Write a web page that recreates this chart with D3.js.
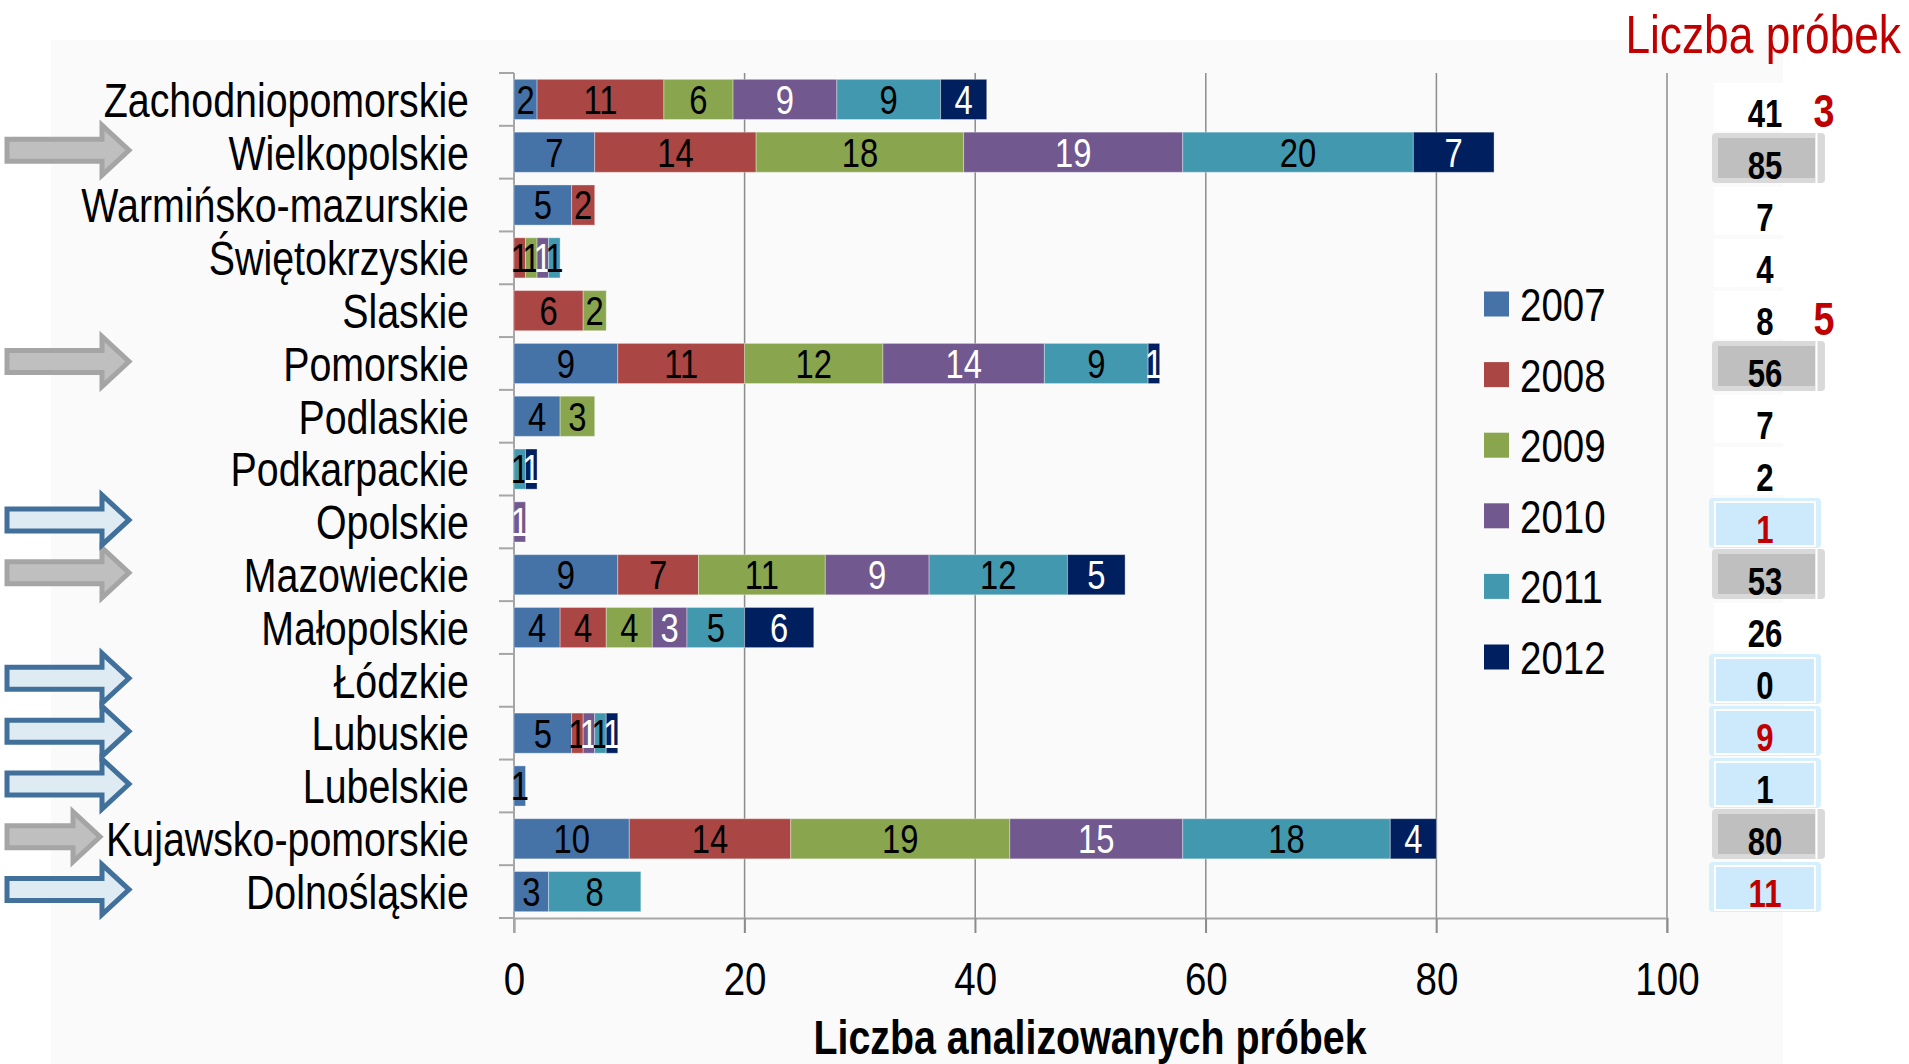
<!DOCTYPE html>
<html lang="pl">
<head>
<meta charset="utf-8">
<title>Liczba analizowanych próbek</title>
<script src="https://cdn.jsdelivr.net/npm/d3@7/dist/d3.min.js"></script>
<style>
  body { margin: 0; background: #fff; }
  svg text { font-family: "Liberation Sans", Arial, sans-serif; }
</style>
</head>
<body>
<svg id="chart" width="1909" height="1064"></svg>
<script>
// categories, top to bottom as in the picture
var regions = ["Zachodniopomorskie", "Wielkopolskie", "Warmińsko-mazurskie", "Świętokrzyskie",
  "Slaskie", "Pomorskie", "Podlaskie", "Podkarpackie", "Opolskie", "Mazowieckie",
  "Małopolskie", "Łódzkie", "Lubuskie", "Lubelskie", "Kujawsko-pomorskie", "Dolnośląskie"];
var years = ["2007", "2008", "2009", "2010", "2011", "2012"];

// samples per year
var v2007 = [2, 7, 5, 0, 0, 9, 4, 0, 0, 9, 4, 0, 5, 1, 10, 3];
var v2008 = [11, 14, 2, 1, 6, 11, 0, 0, 0, 7, 4, 0, 1, 0, 14, 0];
var v2009 = [6, 18, 0, 1, 2, 12, 3, 0, 0, 11, 4, 0, 0, 0, 19, 0];
var v2010 = [9, 19, 0, 1, 0, 14, 0, 0, 1, 9, 3, 0, 1, 0, 15, 0];
var v2011 = [9, 20, 0, 1, 0, 9, 0, 1, 0, 12, 5, 0, 1, 0, 18, 8];
var v2012 = [4, 7, 0, 0, 0, 1, 0, 1, 0, 5, 6, 0, 1, 0, 4, 0];

var xTicks = [0, 20, 40, 60, 80, 100];

// highlighted regions (arrows + boxes in the totals column)
var markedGray = ["Wielkopolskie", "Pomorskie", "Mazowieckie", "Kujawsko-pomorskie"];
var markedBlue = ["Opolskie", "Łódzkie", "Lubuskie", "Lubelskie", "Dolnośląskie"];
var redTotals = ["Opolskie", "Lubuskie", "Dolnośląskie"];
var sideNotes = [{ region: "Zachodniopomorskie", text: "3" }, { region: "Slaskie", text: "5" }];

var colors = ["#4572a7", "#aa4643", "#89a54e", "#71588f", "#4198af", "#001f5f"];
var labelColors = ["#000", "#000", "#000", "#fff", "#000", "#fff"];

var series = [v2007, v2008, v2009, v2010, v2011, v2012];
var rows = regions.map(function(r, i) {
  var o = { region: r };
  years.forEach(function(y, k) { o[y] = series[k][i]; });
  o.total = d3.sum(series, function(s) { return s[i]; });
  return o;
});

// the original uses a narrow font: squeeze Liberation Sans horizontally
var SQ = 0.82;
function place(sel, fx, fy) {
  return sel.attr("transform", function(d, i) {
    return "translate(" + fx(d, i) + "," + fy(d, i) + ") scale(" + SQ + ",1)";
  });
}

var svg = d3.select("#chart");

// panel background
svg.append("rect").attr("x", 51).attr("y", 40).attr("width", 1732).attr("height", 1024).attr("fill", "#fafafa");

var plotTop = 73, plotBottom = 918, plotLeft = 514, plotRight = 1667;
var x = d3.scaleLinear().domain([0, 100]).range([plotLeft, plotRight]);
var y = d3.scaleBand().domain(regions).range([plotTop, plotBottom]);
var bh = y.bandwidth() * 0.76;

// vertical gridlines
svg.append("g").selectAll("line").data(xTicks.slice(1)).enter().append("line")
  .attr("x1", x).attr("x2", x).attr("y1", plotTop).attr("y2", plotBottom + 15)
  .attr("stroke", "#8c8c8c").attr("stroke-width", 1.5);

// bottom axis
var xAxis = svg.append("g").attr("transform", "translate(0," + plotBottom + ")")
  .call(d3.axisBottom(x).tickValues(xTicks).tickSize(15).tickPadding(29).tickFormat(d3.format("d")));
xAxis.select(".domain").attr("stroke", "#a6a6a6").attr("stroke-width", 2);
xAxis.selectAll(".tick line").attr("stroke", "#8c8c8c").attr("stroke-width", 1.5);
xAxis.selectAll(".tick text").attr("font-size", 47).attr("fill", "#000")
  .attr("transform", "scale(" + SQ + ",1)");

// left axis: line and boundary ticks
svg.append("line").attr("x1", plotLeft).attr("x2", plotLeft).attr("y1", plotTop).attr("y2", plotBottom + 15)
  .attr("stroke", "#a6a6a6").attr("stroke-width", 2);
svg.append("g").selectAll("line").data(regions.concat(["end"])).enter().append("line")
  .attr("x1", plotLeft - 15).attr("x2", plotLeft)
  .attr("y1", function(d) { return d === "end" ? plotBottom : y(d); })
  .attr("y2", function(d) { return d === "end" ? plotBottom : y(d); })
  .attr("stroke", "#a6a6a6").attr("stroke-width", 2);

// category labels
var catLabels = svg.append("g").selectAll("text").data(regions).enter().append("text")
  .attr("dy", "0.36em").attr("text-anchor", "end").attr("font-size", 48).attr("fill", "#000")
  .text(function(d) { return d; });
place(catLabels, function() { return 469; }, function(d) { return y(d) + y.bandwidth() / 2; });

// stacked bars
var stacked = d3.stack().keys(years)(rows);
var layer = svg.append("g").selectAll("g").data(stacked).enter().append("g");
layer.selectAll("rect").data(function(d) { return d; }).enter().append("rect")
  .filter(function(d) { return d[1] > d[0]; })
  .attr("x", function(d) { return x(d[0]); })
  .attr("y", function(d) { return y(d.data.region) + (y.bandwidth() - bh) / 2; })
  .attr("width", function(d) { return x(d[1]) - x(d[0]); })
  .attr("height", bh)
  .attr("fill", function() { return colors[d3.select(this.parentNode).datum().index]; })
  .attr("stroke", "rgba(255,255,255,0.35)").attr("stroke-width", 1);

var barText = layer.selectAll("text").data(function(d) { return d; }).enter().append("text")
  .filter(function(d) { return d[1] > d[0]; })
  .attr("dy", "0.36em").attr("text-anchor", "middle").attr("font-size", 40)
  .attr("fill", function() { return labelColors[d3.select(this.parentNode).datum().index]; })
  .text(function(d) { return d[1] - d[0]; });
place(barText, function(d) { return (x(d[0]) + x(d[1])) / 2; },
  function(d) { return y(d.data.region) + y.bandwidth() / 2; });

// axis title
svg.append("text").attr("text-anchor", "middle")
  .attr("font-size", 48).attr("font-weight", "bold").attr("fill", "#000")
  .attr("transform", "translate(1090,1054) scale(" + SQ + ",1)")
  .text("Liczba analizowanych próbek");

// legend
var legend = svg.append("g").selectAll("g").data(years).enter().append("g")
  .attr("transform", function(d, i) { return "translate(1484," + (304 + i * 70.6) + ")"; });
legend.append("rect").attr("x", 0).attr("y", -12.5).attr("width", 25).attr("height", 25)
  .attr("fill", function(d, i) { return colors[i]; });
legend.append("text").attr("dy", "0.36em").attr("font-size", 47).attr("fill", "#000")
  .attr("transform", "translate(36,0) scale(" + SQ + ",1)")
  .text(function(d) { return d; });

// totals column
svg.append("text").attr("text-anchor", "end")
  .attr("font-size", 54).attr("fill", "#c00000")
  .attr("transform", "translate(1901,53) scale(" + SQ + ",1)")
  .text("Liczba próbek");

var yt = d3.scalePoint().domain(regions).range([113, 893]);
var tot = svg.append("g").selectAll("g").data(rows).enter().append("g")
  .attr("transform", function(d) { return "translate(1765," + yt(d.region) + ")"; });

tot.each(function(d) {
  var g = d3.select(this);
  if (markedGray.indexOf(d.region) >= 0) {
    g.append("rect").attr("x", -53).attr("y", -32).attr("width", 113).attr("height", 50).attr("rx", 4).attr("fill", "#d9d9d9");
    g.append("rect").attr("x", -47).attr("y", -27).attr("width", 97).attr("height", 40).attr("fill", "#bfbfbf");
    g.append("line").attr("x1", 51.5).attr("x2", 51.5).attr("y1", -32).attr("y2", 18).attr("stroke", "#fff").attr("stroke-width", 2);
  } else if (markedBlue.indexOf(d.region) >= 0) {
    g.append("rect").attr("x", -56).attr("y", -31).attr("width", 112).attr("height", 50).attr("rx", 4).attr("fill", "#d6effd");
    g.append("rect").attr("x", -50).attr("y", -27).attr("width", 100).attr("height", 44).attr("fill", "#cdeafc")
      .attr("stroke", "#fff").attr("stroke-width", 2);
  } else {
    g.append("rect").attr("x", -51).attr("y", -30).attr("width", 70).attr("height", 48).attr("fill", "#fff");
  }
  g.append("text").attr("dy", "0.36em").attr("text-anchor", "middle").attr("font-size", 38)
    .attr("font-weight", "bold").attr("transform", "scale(" + SQ + ",1)")
    .attr("fill", redTotals.indexOf(d.region) >= 0 ? "#c00000" : "#000")
    .text(d.total);
});

var notes = svg.append("g").selectAll("text").data(sideNotes).enter().append("text")
  .attr("dy", "0.36em").attr("text-anchor", "middle").attr("font-size", 46)
  .attr("font-weight", "bold").attr("fill", "#c00000")
  .text(function(d) { return d.text; });
place(notes, function() { return 1824; }, function(d) { return yt(d.region) - 3; });

// arrows on the left
function arrowPath(x0, tip, cy) {
  var head = tip - 27;
  return "M" + x0 + "," + (cy - 11) + "L" + head + "," + (cy - 11) + "L" + head + "," + (cy - 25) +
    "L" + tip + "," + cy + "L" + head + "," + (cy + 25) + "L" + head + "," + (cy + 11) +
    "L" + x0 + "," + (cy + 11) + "Z";
}
var labelLeft = {};
catLabels.each(function(d) { labelLeft[d] = 469 - this.getComputedTextLength() * SQ; });

var arrows = markedGray.map(function(r) { return { region: r, kind: "gray" }; })
  .concat(markedBlue.map(function(r) { return { region: r, kind: "blue" }; }));
svg.append("g").selectAll("path").data(arrows).enter().append("path")
  .attr("d", function(d) {
    var tip = Math.min(129, labelLeft[d.region] - 6);
    return arrowPath(7, tip, y(d.region) + y.bandwidth() / 2 - 2);
  })
  .attr("fill", function(d) { return d.kind === "gray" ? "#bfbfbf" : "#deebf2"; })
  .attr("stroke", function(d) { return d.kind === "gray" ? "#a5a5a5" : "#41709b"; })
  .attr("stroke-width", 5).attr("stroke-linejoin", "miter");
</script>
</body>
</html>
